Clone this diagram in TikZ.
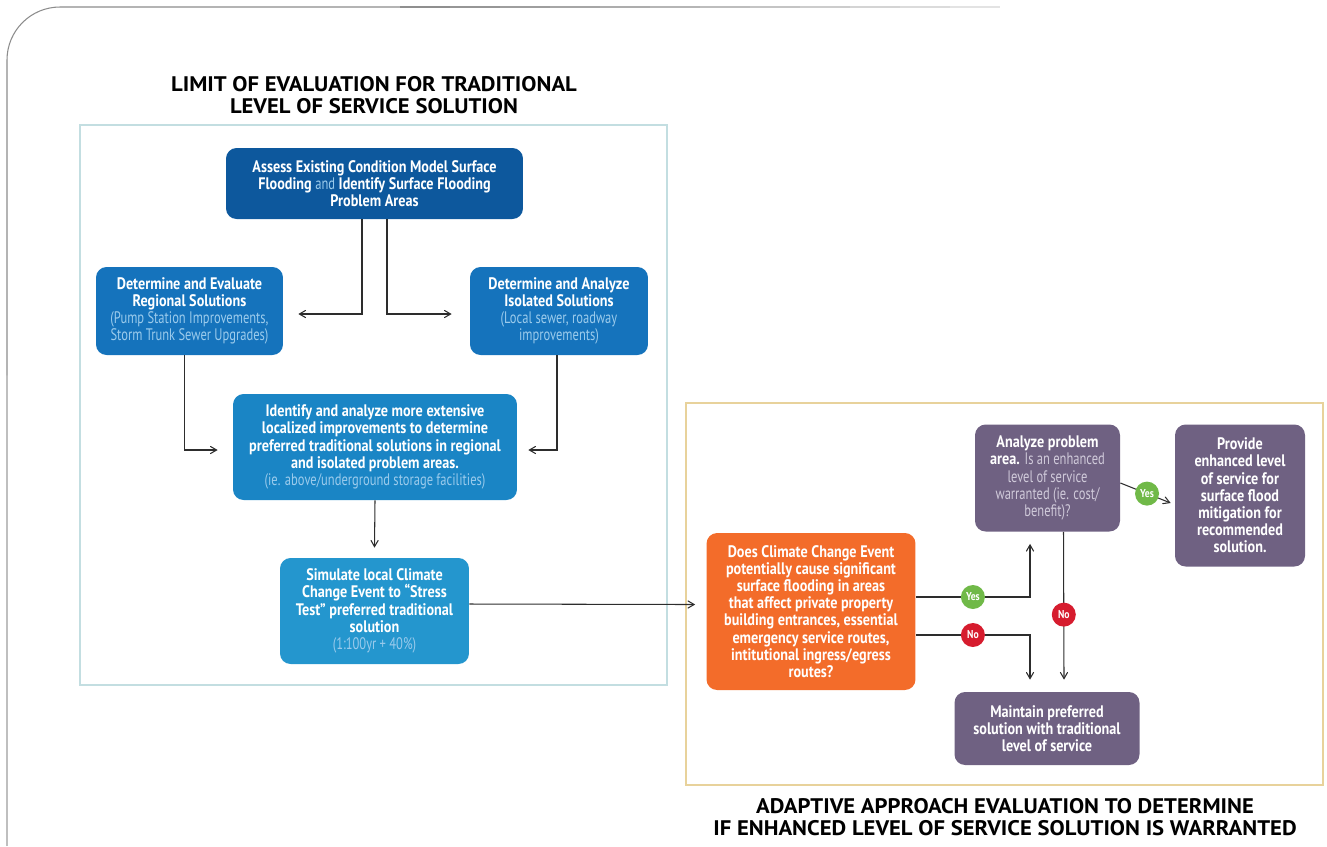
\documentclass[tikz,border=0pt]{standalone}
\usepackage{fontspec}
\setmainfont{PT Sans}[FakeStretch=0.85]
\newfontfamily\thinfont{PT Sans}[FakeStretch=0.75]
\newfontfamily\titlefont{PT Sans}[FakeStretch=1.075]
\usetikzlibrary{shapes.geometric, arrows}
\definecolor{navyblue}{RGB}{13,88,157}
\definecolor{midblue}{RGB}{21,115,188}
\definecolor{brightblue}{RGB}{26,133,197}
\definecolor{skyblue}{RGB}{36,150,206}
\definecolor{paleblue}{RGB}{155,203,236}
\definecolor{flame}{RGB}{243,108,42}
\definecolor{plum}{RGB}{111,97,130}
\definecolor{paleplum}{RGB}{208,202,218}
\definecolor{tealframe}{RGB}{195,222,225}
\definecolor{sandframe}{RGB}{232,210,155}
\definecolor{yesgreen}{RGB}{112,185,72}
\definecolor{nored}{RGB}{214,28,46}
\definecolor{ink}{RGB}{45,45,45}
\newcommand{\liteb}[1]{{\thinfont\mdseries\color{paleblue}#1}}
\newcommand{\litep}[1]{{\thinfont\mdseries\color{paleplum}#1}}
\tikzstyle{box} = [rectangle, rounded corners=6pt, align=center, text=white, font=\bfseries\fontsize{9.5}{9.8}\selectfont, inner sep=1pt]
\tikzstyle{arrow} = [semithick,->,>=angle 60, draw=ink]
\tikzstyle{yes} = [circle, fill=yesgreen, text=white, minimum size=0.48cm, inner sep=0pt, font=\bfseries\fontsize{6.5}{6.5}\selectfont]
\tikzstyle{no} = [yes, fill=nored]
\tikzstyle{heading} = [align=center, font=\titlefont\bfseries\fontsize{12}{12.3}\selectfont, text=black]

\begin{document}
\begin{tikzpicture}[x=0.02cm, y=-0.02cm]
\useasboundingbox (0,0) rectangle (1327,846);

% Page edge
\draw[black!25, line width=0.6pt] (7,846) -- (7,375);
\draw[black!45, line width=0.6pt, rounded corners=1.06cm] (7,375) -- (7,7) -- (400,7);
\foreach \i in {0,...,11}
  \draw[black!\the\numexpr 44-3*\i\relax, line width=0.6pt] (400+50*\i,7) -- (450+50*\i,7);

% Frames
\draw[tealframe, line width=1.2pt] (80,125) rectangle (667,685);
\draw[sandframe, line width=1.5pt] (686,403) rectangle (1323,785);

% Headings
\node (lefttitle) [heading] at (374,95) {LIMIT OF EVALUATION FOR TRADITIONAL\\LEVEL OF SERVICE SOLUTION};
\node (righttitle) [heading] at (1005,817) {ADAPTIVE APPROACH EVALUATION TO DETERMINE\\IF ENHANCED LEVEL OF SERVICE SOLUTION IS WARRANTED};

% Nodes
\node (assess) [box, fill=navyblue, minimum width=5.94cm, minimum height=1.42cm] at (374.5,183.5)
  {Assess Existing Condition Model Surface\\Flooding \liteb{and} Identify Surface Flooding\\Problem Areas};
\node (regional) [box, fill=midblue, minimum width=3.74cm, minimum height=1.76cm] at (189.5,311)
  {Determine and Evaluate\\Regional Solutions\\\liteb{(Pump Station Improvements,}\\\liteb{Storm Trunk Sewer Upgrades)}};
\node (isolated) [box, fill=midblue, minimum width=3.56cm, minimum height=1.76cm] at (559,311)
  {Determine and Analyze\\Isolated Solutions\\\liteb{(Local sewer, roadway}\\\liteb{improvements)}};
\node (identify) [box, fill=brightblue, minimum width=5.68cm, minimum height=2.12cm] at (375,447)
  {Identify and analyze more extensive\\localized improvements to determine\\preferred traditional solutions in regional\\and isolated problem areas.\\\liteb{(ie. above/underground storage facilities)}};
\node (simulate) [box, fill=skyblue, minimum width=3.78cm, minimum height=2.12cm] at (374.5,611)
  {Simulate local Climate\\Change Event to ``Stress\\Test'' preferred traditional\\solution\\\liteb{(1:100yr + 40\%)}};
\node (decision) [box, fill=flame, minimum width=4.18cm, minimum height=3.14cm] at (811,611.5)
  {Does Climate Change Event\\potentially cause significant\\surface flooding in areas\\that affect private property\\building entrances, essential\\emergency service routes,\\intitutional ingress/egress\\routes?};
\node (analyze) [box, fill=plum, minimum width=2.9cm, minimum height=2.14cm] at (1047.5,478)
  {Analyze problem\\area. \litep{Is an enhanced}\\\litep{level of service}\\\litep{warranted (ie. cost/}\\\litep{benefit)?}};
\node (provide) [box, fill=plum, minimum width=2.6cm, minimum height=2.84cm] at (1240,495.5)
  {Provide\\enhanced level\\of service for\\surface flood\\mitigation for\\recommended\\solution.};
\node (maintain) [box, fill=plum, minimum width=3.7cm, minimum height=1.46cm] at (1047,728.5)
  {Maintain preferred\\solution with traditional\\level of service};

% Arrows
\draw [arrow] ([xshift=-0.25cm]assess.south) |- ([xshift=0.3cm,yshift=-0.06cm]regional.east);
\draw [arrow] ([xshift=0.25cm]assess.south) |- ([xshift=-0.36cm,yshift=-0.06cm]isolated.west);
\draw [arrow] ([xshift=-0.1cm]regional.south) |- ([xshift=-0.3cm,yshift=-0.06cm]identify.west);
\draw [arrow] ([xshift=-0.04cm]isolated.south) |- ([xshift=0.22cm,yshift=-0.06cm]identify.east);
\draw [arrow] (identify.south) -- ([yshift=0.2cm]simulate.north);
\draw [arrow] ([yshift=0.14cm]simulate.east) -- ([xshift=-0.22cm,yshift=0.14cm]decision.west);
\draw [arrow] ([yshift=0.29cm]decision.east) -| ([xshift=-0.35cm,yshift=-0.24cm]analyze.south)
  node (yes1) [yes, pos=0.25] {Yes};
\draw [arrow] ([yshift=-0.47cm]decision.east) -| ([xshift=-0.34cm,yshift=0.24cm]maintain.north)
  node (no1) [no, pos=0.25] {No};
\draw [arrow] ([xshift=0.32cm]analyze.south) -- ([xshift=0.34cm,yshift=0.24cm]maintain.north)
  node (no2) [no, pos=0.56] {No};
\draw [arrow] ([yshift=-0.1cm]analyze.east) -- ([xshift=-0.08cm,yshift=-0.15cm]provide.west)
  node (yes2) [yes, pos=0.53] {Yes};

\end{tikzpicture}
\end{document}
